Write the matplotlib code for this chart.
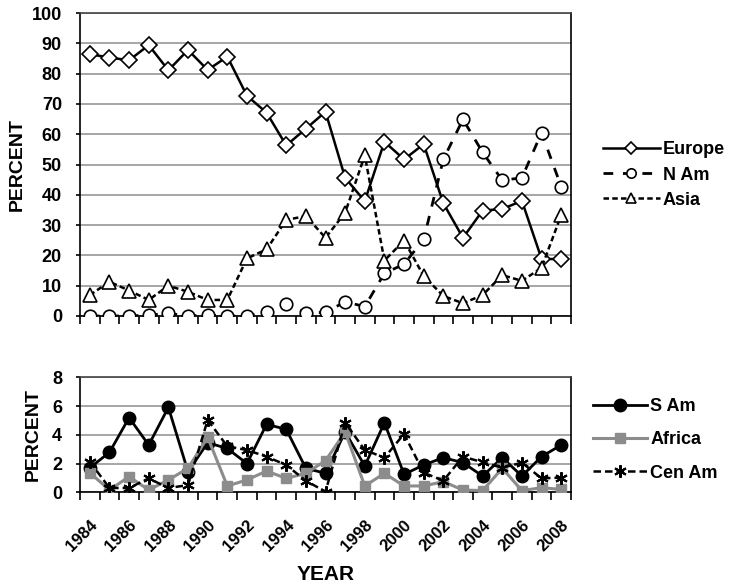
import numpy as np
import matplotlib
matplotlib.use("Agg")
import matplotlib.pyplot as plt
from matplotlib.ticker import FixedLocator, NullFormatter

plt.rcParams['font.family'] = ['Liberation Sans', 'DejaVu Sans']
plt.rcParams['font.weight'] = 'bold'

years = list(range(1984, 2009))

europe = [86.4, 85.3, 84.4, 89.4, 81.1, 87.8, 81.2, 85.6, 72.7, 67.1, 56.3, 61.8, 67.4,
          45.6, 37.9, 57.5, 51.7, 56.7, 37.2, 25.8, 34.8, 35.3, 38.0, 18.9, 18.7]
n_am = [0.0, 0.0, 0.0, 0.3, 0.9, 0.0, 0.3, 0.0, 0.0, 1.4, 4.0, 1.0, 1.2,
        4.7, 3.1, 14.1, 17.1, 25.3, 51.7, 64.9, 54.0, 44.8, 45.6, 60.5, 42.7]
asia = [6.9, 11.3, 8.4, 5.3, 10.0, 8.0, 5.3, 5.3, 19.0, 22.0, 31.7, 33.0, 25.8,
        34.1, 53.0, 18.3, 24.9, 13.2, 6.6, 4.2, 6.9, 13.5, 11.6, 15.9, 33.3]

s_am = [1.7, 2.78, 5.19, 3.29, 5.91, 1.43, 3.45, 3.05, 2.0, 4.73, 4.38, 1.67, 1.32,
        4.2, 1.83, 4.84, 1.25, 1.9, 2.41, 2.06, 1.13, 2.41, 1.13, 2.48, 3.29]
africa = [1.36, 0.16, 1.09, 0.16, 0.86, 1.67, 3.83, 0.44, 0.86, 1.48, 0.97, 1.32, 2.2,
          4.2, 0.44, 1.32, 0.44, 0.44, 0.74, 0.16, 0.12, 1.67, 0.12, 0.32, 0.2]
cen_am = [2.13, 0.3, 0.3, 0.97, 0.3, 0.5, 5.03, 3.2, 2.94, 2.48, 1.9, 0.8, 0.05,
          4.84, 2.94, 2.41, 4.06, 1.36, 0.81, 2.48, 2.09, 1.71, 2.06, 0.97, 1.02]

x = np.arange(len(years))

W, H = 732, 585
fig = plt.figure(figsize=(W / 100, H / 100), dpi=100)
ax1 = fig.add_axes([80 / W, 1 - 316 / H, 491 / W, 303 / H])
ax2 = fig.add_axes([80 / W, 1 - 492.3 / H, 491 / W, 115 / H])

grid_c = '#a6a6a6'

def style(ax, ymax, ystep):
    ax.set_xlim(-0.5, len(years) - 0.5)
    ax.set_ylim(0, ymax)
    ax.set_yticks(np.arange(0, ymax + 0.01, ystep))
    ax.yaxis.grid(True, color=grid_c, lw=1.4, zorder=0)
    ax.set_axisbelow(True)
    for s in ax.spines.values():
        s.set_color('black')
        s.set_linewidth(1.2)
    ax.spines['top'].set_color('#444444')
    ax.tick_params(axis='y', direction='out', length=3, width=1.2, pad=10, labelsize=13)
    ax.xaxis.set_minor_locator(FixedLocator(np.arange(-0.5, len(years), 1.0)))
    ax.tick_params(axis='x', which='minor', direction='out', length=6, width=1.2)
    ax.tick_params(axis='x', which='major', length=0)
    for lab in ax.get_yticklabels():
        lab.set_fontweight('bold')

style(ax1, 100, 10)
style(ax2, 8, 2)

ax1.set_xticks(x[::2])
ax1.xaxis.set_major_formatter(NullFormatter())
ax2.set_xticks(x[::2])
ax2.set_xticklabels([str(y) for y in years[::2]], rotation=45, ha='right',
                    rotation_mode='anchor', fontsize=12, fontweight='bold')
ax2.tick_params(axis='x', which='major', pad=18)

l_eu, = ax1.plot(x, europe, color='black', lw=1.8, marker='D', ms=8,
                 mfc='white', mec='black', mew=1.2, label='Europe', zorder=3)
l_na, = ax1.plot(x, n_am, color='black', lw=2.0, marker='o', ms=9,
                 mfc='white', mec='black', mew=1.2, label='N Am', zorder=3,
                 dashes=(3.5, 3.5))
l_as, = ax1.plot(x, asia, color='black', lw=1.8, marker='^', ms=10,
                 mfc='white', mec='black', mew=1.2, label='Asia', zorder=3,
                 dashes=(2.2, 1.3))

l_sa, = ax2.plot(x, s_am, color='black', lw=2.0, marker='o', ms=9,
                 mfc='black', mec='black', label='S Am', zorder=3)
l_af, = ax2.plot(x, africa, color='#8c8c8c', lw=2.2, marker='s', ms=7,
                 mfc='#8c8c8c', mec='#8c8c8c', label='Africa', zorder=4)
l_ca, = ax2.plot(x, cen_am, color='black', lw=1.8, marker=(6, 2, 0), ms=9,
                 mew=1.5, label='Cen Am', zorder=5, dashes=(3, 1.6))

ax1.set_ylabel('PERCENT', fontsize=14, fontweight='bold')
ax1.yaxis.set_label_coords(-0.110, 0.5)
ax2.set_ylabel('PERCENT', fontsize=14, fontweight='bold')
ax2.yaxis.set_label_coords(-0.077, 0.5)
ax2.set_xlabel('YEAR', fontsize=15, fontweight='bold')
ax2.xaxis.set_label_coords(0.5, -0.632)

leg_kw = dict(frameon=False, handletextpad=0.17, borderpad=0,
              prop={'size': 13, 'weight': 'bold'}, borderaxespad=0)
fig.legend(handles=[l_eu, l_na, l_as], loc='center left', handlelength=3.15,
           markerscale=0.75,
           bbox_to_anchor=(603 / W, 1 - 175 / H), labelspacing=0.46, **leg_kw)
fig.legend(handles=[l_sa, l_af, l_ca], loc='center left', handlelength=3.0,
           bbox_to_anchor=(593 / W, 1 - 440 / H), labelspacing=0.9, **leg_kw)

fig.savefig('out.png', dpi=100)
